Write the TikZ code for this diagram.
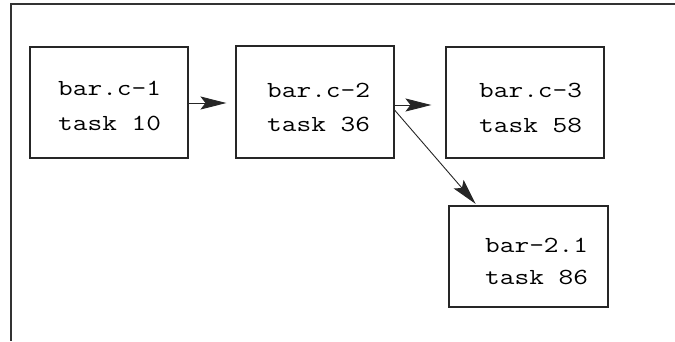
\documentclass[tikz,border=0pt]{standalone}
\usepackage{fontspec}
\setmonofont{Latin Modern Mono}[FakeStretch=1.24]
\usetikzlibrary{arrows.meta}
\tikzset{
  box/.style={draw=black!85, line width=1.1pt, rectangle, inner sep=0pt},
  lbl/.style={anchor=base west, inner sep=0pt, font=\ttfamily\fontsize{23}{30}\selectfont},
  arr/.style={draw=black!85, line width=0.9pt, -{Stealth[length=26pt,width=13pt,inset=5pt]}},
}
\begin{document}
\begin{tikzpicture}[x=1pt,y=-1pt]
\useasboundingbox (0,0) rectangle (675,341);
\draw[black!80, line width=1.3pt] (675,4) -- (11,4) -- (11,341);
\node[box, minimum width=158pt, minimum height=111pt] (b1) at (109,102.5) {};
\node[box, minimum width=158pt, minimum height=112pt] (b2) at (315,102) {};
\node[box, minimum width=158pt, minimum height=111pt] (b3) at (525,102.5) {};
\node[box, minimum width=159pt, minimum height=101pt] (b4) at (528.5,256.5) {};
\node[lbl] (t1a) at (58,95) {bar.c-1};
\node[lbl] (t1b) at (58,130) {task 10};
\node[lbl] (t2a) at (267,97) {bar.c-2};
\node[lbl] (t2b) at (267,131) {task 36};
\node[lbl] (t3a) at (479,97) {bar.c-3};
\node[lbl] (t3b) at (479,132) {task 58};
\node[lbl] (t4a) at (485,252) {bar-2.1};
\node[lbl] (t4b) at (485,284) {task 86};
\draw[arr, shorten >=9pt] ([yshift=-0.5pt]b1.east) -- ([yshift=-1pt]b2.west);
\draw[arr, shorten >=14pt] ([yshift=-3pt]b2.east) -- ([yshift=-2.5pt]b3.west);
\draw[arr, shorten >=2pt] ([yshift=-8pt]b2.east) -- ([xshift=-51.5pt]b4.north);
\end{tikzpicture}
\end{document}
